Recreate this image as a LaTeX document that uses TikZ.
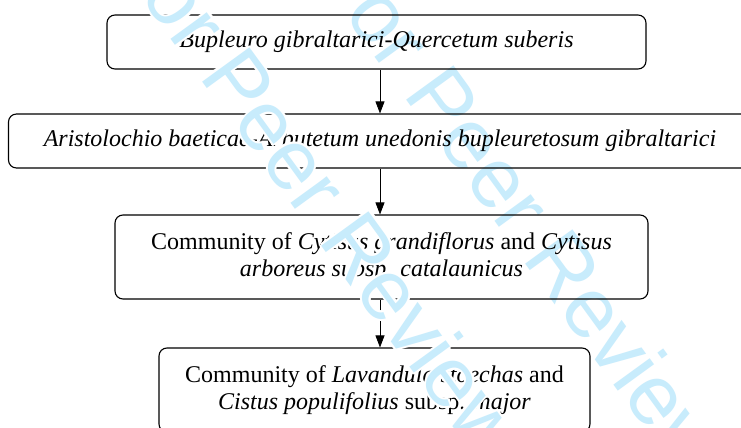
\documentclass[tikz,border=0pt]{standalone}
\usepackage{fontspec}
\setmainfont{Liberation Serif}
\newfontfamily\wmfont{Liberation Sans}
\usetikzlibrary{arrows.meta}
\definecolor{wmblue}{RGB}{200,236,252}

\begin{document}
\begin{tikzpicture}[x=1pt,y=-1pt,>={Triangle[length=12pt,width=9pt]},
  box/.style={draw,rounded corners=8pt,line width=1.1pt,align=center,inner sep=0pt,
    font=\fontsize{24}{27.5}\selectfont},
  link/.style={->,line width=0.8pt},
  wm/.style={font=\wmfont\fontsize{85}{85}\selectfont,text=wmblue,rotate=-54,inner sep=0pt}]
  \clip (0,0) rectangle (741,428);
  \fill[white] (0,0) rectangle (741,428);
  \coordinate (axis) at (380,0);
  % watermark, back copy
  \node[wm] (wmB) at (524,210) {For Peer Review};
  % succession boxes
  \node[box, minimum width=539pt, minimum height=54pt] (b1) at (376.5,42)
    {\textit{Bupleuro gibraltarici-Quercetum suberis}};
  \node[box, minimum width=743pt, minimum height=54pt] (b2) at (380,141)
    {\textit{Aristolochio baeticae-Arbutetum unedonis bupleuretosum gibraltarici}};
  \node[box, minimum width=533pt, minimum height=84pt] (b3) at (381.5,257)
    {Community of \textit{Cytisus grandiflorus} and \textit{Cytisus}\\
     \textit{arboreus subsp. catalaunicus}};
  \node[box, minimum width=431pt, minimum height=84pt] (b4) at (374.5,390)
    {Community of \textit{Lavandula stoechas} and\\
     \textit{Cistus populifolius} subsp. \textit{major}};
  \draw[link] (b1.south -| axis) -- (b2.north -| axis);
  \draw[link] (b2.south -| axis) -- (b3.north -| axis);
  \draw[link] (b3.south -| axis) -- (b4.north -| axis);
  % watermark, front copy with white halo
  \foreach \dx/\dy in {-2/0,2/0,0/-2,0/2,-1.5/-1.5,1.5/1.5,-1.5/1.5,1.5/-1.5}{
    \node[wm,text=white] at ([xshift=\dx pt,yshift=\dy pt]320,192) {For Peer Review};
  }
  \node[wm] (wmA) at (320,192) {For Peer Review};
\end{tikzpicture}
\end{document}
